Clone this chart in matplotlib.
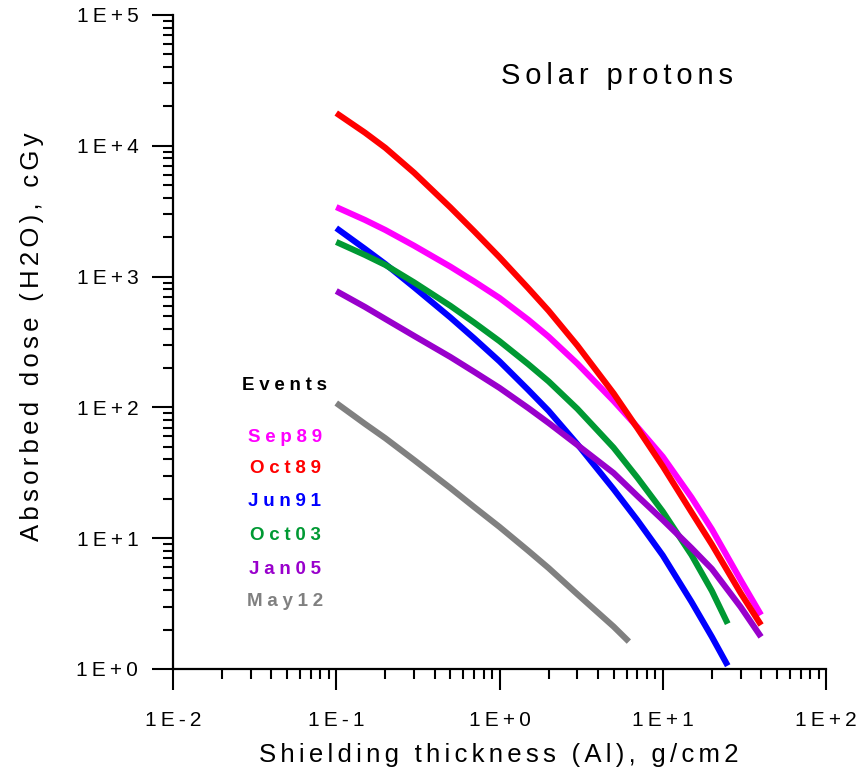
import matplotlib
matplotlib.use("Agg")
import matplotlib.pyplot as plt
from matplotlib.ticker import LogLocator, NullFormatter, FixedLocator

plt.rcParams['font.family'] = ['Liberation Sans', 'DejaVu Sans']

# Dose-depth data for solar proton events (water dose behind Al shielding)
events = ["Sep89", "Oct89", "Jun91", "Oct03", "Jan05", "May12"]
colors = ["#FF00FF", "#FF0000", "#0000FF", "#009933", "#9900CC", "#808080"]

thick_sep89 = [0.1, 0.15, 0.2, 0.3, 0.5, 0.7, 1, 1.5, 2, 3, 5, 7, 10, 15, 20, 30, 40]
dose_sep89 = [3400, 2710, 2270, 1722, 1192, 918, 687, 468, 347, 216, 112, 70.6,
              42.0, 20.5, 11.7, 4.79, 2.59]

thick_oct89 = [0.1, 0.15, 0.2, 0.3, 0.5, 0.7, 1, 1.5, 2, 3, 5, 7, 10, 15, 20, 30, 40]
dose_oct89 = [17800, 12600, 9640, 6220, 3380, 2220, 1406, 815, 548, 297, 128, 69.2,
              35.5, 15.8, 8.95, 3.81, 2.17]

thick_jun91 = [0.1, 0.15, 0.2, 0.3, 0.5, 0.7, 1, 1.5, 2, 3, 5, 7, 10, 15, 20, 25]
dose_jun91 = [2350, 1629, 1247, 828, 487, 337, 225, 136, 94.1, 52.3, 23.7, 13.7,
              7.39, 3.26, 1.76, 1.06]

thick_oct03 = [0.1, 0.15, 0.2, 0.3, 0.5, 0.7, 1, 1.5, 2, 3, 5, 7, 10, 15, 20, 25]
dose_oct03 = [1840, 1463, 1227, 903, 598, 445, 321, 214, 158, 97.5, 49.2, 29.0,
              16.0, 7.44, 3.95, 2.22]

thick_jan05 = [0.1, 0.15, 0.2, 0.3, 0.5, 0.7, 1, 1.5, 2, 3, 5, 7, 10, 15, 20, 30, 40]
dose_jan05 = [776, 586, 474, 352, 243, 187, 141, 98.9, 76.0, 51.6, 31.5, 21.0,
              13.8, 8.41, 5.82, 2.98, 1.76]

thick_may12 = [0.1, 0.15, 0.2, 0.3, 0.5, 0.7, 1, 1.5, 2, 3, 5, 6.2]
dose_may12 = [108, 74.8, 58.1, 39.6, 24.2, 17.3, 12.2, 8.02, 5.91, 3.73, 2.11, 1.62]

series = [
    (thick_sep89, dose_sep89),
    (thick_oct89, dose_oct89),
    (thick_jun91, dose_jun91),
    (thick_oct03, dose_oct03),
    (thick_jan05, dose_jan05),
    (thick_may12, dose_may12),
]

x_major = [1e-2, 1e-1, 1e0, 1e1, 1e2]
x_labels = ["1E-2", "1E-1", "1E+0", "1E+1", "1E+2"]
y_major = [1e0, 1e1, 1e2, 1e3, 1e4, 1e5]
y_labels = ["1E+0", "1E+1", "1E+2", "1E+3", "1E+4", "1E+5"]

SP_TICK = "\u2009"   # thin space
SP_LABEL = "\u2006"  # six-per-em space
SP_LEG = "\u2005"    # four-per-em space


def spaced(s, sp):
    return sp.join(s)


fig = plt.figure(figsize=(8.58, 7.71), dpi=100)
ax = fig.add_axes([173 / 858, 1 - 669 / 771, (826 - 173) / 858, (669 - 15) / 771])

for (x, y), c in zip(series, colors):
    ax.plot(x, y, color=c, lw=4.4, solid_capstyle='butt', solid_joinstyle='round')

ax.set_xscale('log')
ax.set_yscale('log')
ax.set_xlim(1e-2, 1e2)
ax.set_ylim(1e0, 1e5)

ax.xaxis.set_major_locator(FixedLocator(x_major))
ax.yaxis.set_major_locator(FixedLocator(y_major))
ax.set_xticklabels([spaced(t, SP_TICK) for t in x_labels])
ax.set_yticklabels([spaced(t, SP_TICK) for t in y_labels])
ax.xaxis.set_minor_locator(LogLocator(base=10, subs=range(2, 10), numticks=20))
ax.yaxis.set_minor_locator(LogLocator(base=10, subs=range(2, 10), numticks=20))
ax.xaxis.set_minor_formatter(NullFormatter())
ax.yaxis.set_minor_formatter(NullFormatter())

ax.tick_params(which='major', direction='out', length=15, width=1.5,
               labelsize=15, color='black')
ax.tick_params(which='minor', direction='out', length=7.5, width=1.5, color='black')
ax.tick_params(axis='x', which='major', pad=15)
ax.tick_params(axis='y', which='major', pad=10)

for side in ('top', 'right'):
    ax.spines[side].set_visible(False)
for side in ('left', 'bottom'):
    ax.spines[side].set_linewidth(1.6)

fig.text(499 / 858, 1 - 755 / 771, spaced("Shielding thickness (Al), g/cm2", SP_LABEL),
         ha='center', va='center', fontsize=18.5)
fig.text(32 / 858, 1 - 337 / 771, spaced("Absorbed dose (H2O), cGy", SP_LABEL),
         ha='center', va='center', rotation=90, fontsize=18.5)

fig.text(617 / 858, 1 - 76 / 771, spaced("Solar protons", SP_LABEL),
         ha='center', va='center', fontsize=21)

fig.text(285 / 858, 1 - 386 / 771, spaced("Events", SP_LEG),
         ha='center', va='center', fontsize=13.5, fontweight='bold', color='black')
leg_y = [437, 469, 502, 536, 569, 602]
for name, c, yy in zip(events, colors, leg_y):
    fig.text(285 / 858, 1 - yy / 771, spaced(name, SP_LEG),
             ha='center', va='center', fontsize=13.5, fontweight='bold', color=c)

fig.savefig("out.png", dpi=100, facecolor='white')
